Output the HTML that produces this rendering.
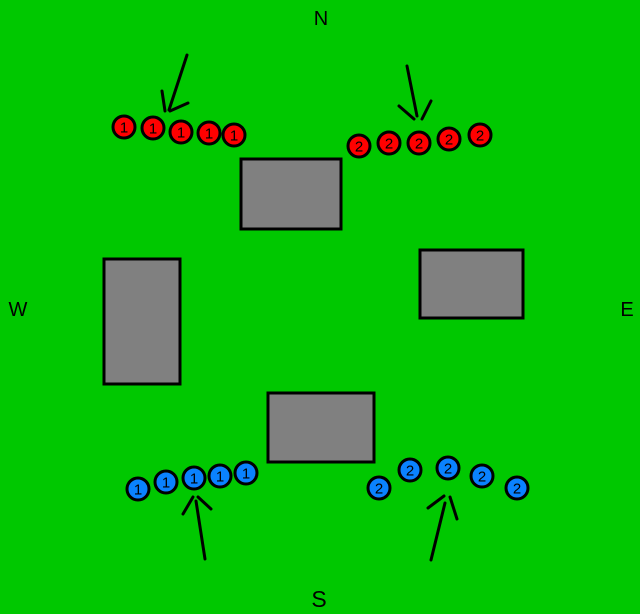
<!DOCTYPE html>
<html><head><meta charset="utf-8"><style>
html,body{margin:0;padding:0;background:#00c800;}
svg{display:block}
text{font-family:"Liberation Sans",sans-serif;}
</style></head><body>
<svg width="640" height="614" viewBox="0 0 640 614" xmlns="http://www.w3.org/2000/svg">
<rect width="640" height="614" fill="#00c800"/>
<g fill="#808080" stroke="#000" stroke-width="3">
<rect x="241" y="159" width="100" height="70"/>
<rect x="104" y="259" width="76" height="125"/>
<rect x="420" y="250" width="103" height="68"/>
<rect x="268" y="393" width="106" height="69"/>
</g>
<g stroke="#000" stroke-width="3" stroke-linecap="round" fill="none">
<line x1="187" y1="55" x2="169" y2="110"/><line x1="162" y1="91" x2="165" y2="111"/><line x1="188" y1="103" x2="170" y2="111"/>
<line x1="407" y1="66" x2="417" y2="116"/><line x1="399" y1="106" x2="414" y2="119"/><line x1="431" y1="101" x2="422" y2="119"/>
<line x1="205" y1="559" x2="196" y2="501"/><line x1="183" y1="514" x2="193" y2="497"/><line x1="211" y1="509" x2="198" y2="497"/>
<line x1="431" y1="560" x2="445" y2="503"/><line x1="428" y1="508" x2="444" y2="496"/><line x1="450" y1="497" x2="457" y2="519"/>
</g>
<g stroke="#000" stroke-width="3">
<g fill="#ff0000">
<circle cx="124" cy="127" r="11"/><circle cx="153" cy="128" r="11"/><circle cx="181" cy="132" r="11"/><circle cx="209" cy="133" r="11"/><circle cx="234" cy="135" r="11"/>
<circle cx="359" cy="146" r="11"/><circle cx="389" cy="143" r="11"/><circle cx="419" cy="143" r="11"/><circle cx="449" cy="139" r="11"/><circle cx="480" cy="135" r="11"/>
</g>
<g fill="#0a82ff">
<circle cx="138" cy="489" r="11"/><circle cx="166" cy="482" r="11"/><circle cx="194" cy="478" r="11"/><circle cx="220" cy="476" r="11"/><circle cx="246" cy="473" r="11"/>
<circle cx="379" cy="488" r="11"/><circle cx="410" cy="470" r="11"/><circle cx="448" cy="468" r="11"/><circle cx="482" cy="476" r="11"/><circle cx="517" cy="488" r="11"/>
</g>
</g>
<g fill="#000" font-size="15" text-anchor="middle">
<text x="124" y="132.5">1</text><text x="153" y="133.5">1</text><text x="181" y="137.5">1</text><text x="209" y="138.5">1</text><text x="234" y="140.5">1</text>
<text x="359" y="151.5">2</text><text x="389" y="148.5">2</text><text x="419" y="148.5">2</text><text x="449" y="144.5">2</text><text x="480" y="140.5">2</text>
<text x="138" y="494.5">1</text><text x="166" y="487.5">1</text><text x="194" y="483.5">1</text><text x="220" y="481.5">1</text><text x="246" y="478.5">1</text>
<text x="379" y="493.5">2</text><text x="410" y="475.5">2</text><text x="448" y="473.5">2</text><text x="482" y="481.5">2</text><text x="517" y="493.5">2</text>
</g>
<g fill="#000" font-size="20" text-anchor="middle">
<text x="321" y="25">N</text>
<text x="18" y="316">W</text>
<text x="627" y="316">E</text>
<text x="319" y="607" font-size="23">S</text>
</g>
</svg>
</body></html>
